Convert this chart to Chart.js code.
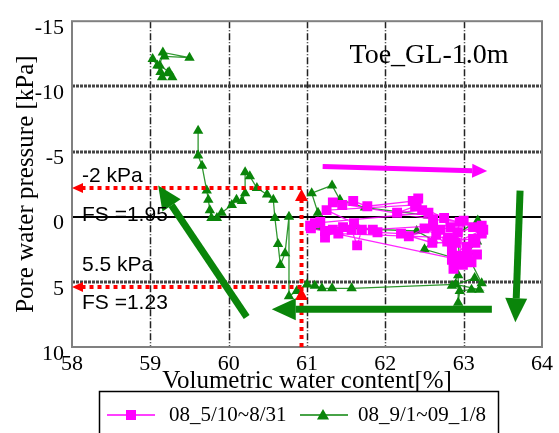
<!DOCTYPE html>
<html>
<head>
<meta charset="utf-8">
<script src="https://cdn.jsdelivr.net/npm/chart.js@4"></script>
<style>
  html, body { margin: 0; padding: 0; background: #fff; }
  #wrap { width: 559px; height: 433px; }
</style>
</head>
<body>
<div id="wrap"><canvas id="c" width="559" height="433"></canvas></div>
<script>
// 08_5/10~8/31 (magenta squares)
const pinkX = [61.04, 61.17, 61.23, 61.33, 61.23, 61.46, 61.57, 61.64, 61.70, 61.84,
  62.61, 62.70, 62.83, 62.92, 62.95, 62.61, 61.33, 61.45, 61.59, 61.77,
  62.35, 62.42, 62.38, 62.15, 62.47, 62.55, 61.10, 61.40, 62.80, 63.12,
  63.23, 63.23, 63.12, 62.79, 62.87, 63.04, 63.17, 62.99, 62.92, 62.87,
  62.95, 63.00, 62.30, 62.50, 62.65, 62.85, 63.05, 62.90, 63.25, 62.75,
  62.40, 61.25, 61.60, 61.90, 62.20, 62.60, 63.15, 62.85, 63.10, 61.05];
const pinkY = [0.7, 0.4, 1.1, 1.0, 1.6, 0.8, 1.0, 2.2, 1.0, 1.0,
  0.7, 1.0, 0.8, 1.2, 0.4, 0.2, -1.1, -0.9, -1.2, -0.8,
  -1.2, -1.4, -0.8, -0.3, -0.5, -0.3, 0.5, 1.3, 1.6, 0.8,
  0.7, 1.3, 1.7, 1.9, 1.8, 2.3, 2.9, 3.7, 3.6, 4.0,
  3.0, 0.3, 1.5, 0.9, 1.4, 2.6, 3.0, 2.0, 1.0, 0.1,
  -0.9, -0.5, 0.5, 1.2, 1.3, 2.0, 2.0, 3.3, 3.5, 0.9];

// 08_9/1~09_1/8 (green triangles), null = gap in the record
const greenX = [59.03, 59.09, 59.13, 59.15, 59.22, 59.28, 59.24, 59.12, 59.16, 59.50, 59.18,
  null,
  59.61, 59.61, 59.66, 59.72, 59.74, 59.76, 59.78, 59.85, 59.91, 60.04,
  60.10, 60.17, 60.21, 60.21, 60.27, 60.36, 60.49, 60.57, 60.59, 60.63,
  60.66, 60.72, 60.77, 60.77, 60.87, 61.00, 61.10, 61.19, 61.32, 61.57,
  62.90, 63.20, 63.10, 62.95, 62.93, 62.93, 62.85, 63.14, 63.23, 63.08,
  63.06, 63.17, 63.23, 63.18, 62.92, 62.95, 62.50, 62.61, 62.40, 61.13,
  61.14, 61.06, 61.32, 61.42, 61.74, 62.55];
const greenY = [-12.1, -11.6, -11.1, -10.7, -11.0, -10.7, -11.1, -11.6, -12.6, -12.2, -12.3,
  null,
  -6.6, -4.7, -3.9, -2.0, -1.3, -0.5, 0.1, 0.1, -0.3, -0.9,
  -1.3, -1.2, -1.8, -3.4, -3.1, -2.2, -1.7, -1.3, 0.1, 2.1,
  3.7, 2.8, 0.0, 6.1, 5.7, 5.2, 5.3, 5.5, 5.5, 5.5,
  5.2, 5.6, 5.6, 5.7, 6.6, 4.5, 5.3, 4.7, 5.1, 3.3,
  2.7, 1.9, 1.3, 0.3, 1.3, 3.3, 2.5, 1.8, 1.1, 0.8,
  -0.3, -1.8, -2.4, -1.3, -0.7, -0.1];

const xTicks = [58, 59, 60, 61, 62, 63, 64];
const yTicks = [-15, -10, -5, 0, 5, 10];

// reference levels (kPa) and water content where they are read
const levelTop = -2.2;
const levelBottom = 5.4;
const levelX = 60.93;

// trend arrows, [x1, y1, x2, y2] in data units (tail -> tip)
const greenArrows = [
  [60.23, 7.7, 59.10, -2.4],
  [63.36, 7.1, 60.55, 7.1],
  [63.72, -2.0, 63.66, 8.1]
];
const pinkArrow = [61.2, -3.85, 63.3, -3.5];

const seriesNames = ['08_5/10~8/31', '08_9/1~09_1/8'];
const PINK = '#ff00ff';
const GREEN = '#0a850a';

function pts(xs, ys) {
  return xs.map((x, i) => (x === null ? { x: null, y: null } : { x: x, y: ys[i] }));
}

function arrow(ctx, x1, y1, x2, y2, w, hl, hw, color) {
  const a = Math.atan2(y2 - y1, x2 - x1);
  const bx = x2 - Math.cos(a) * hl, by = y2 - Math.sin(a) * hl;
  ctx.save();
  ctx.strokeStyle = color; ctx.fillStyle = color;
  ctx.lineWidth = w; ctx.lineCap = 'butt'; ctx.setLineDash([]);
  ctx.beginPath(); ctx.moveTo(x1, y1); ctx.lineTo(bx, by); ctx.stroke();
  ctx.beginPath();
  ctx.moveTo(x2, y2);
  ctx.lineTo(bx + Math.sin(a) * hw, by - Math.cos(a) * hw);
  ctx.lineTo(bx - Math.sin(a) * hw, by + Math.cos(a) * hw);
  ctx.closePath(); ctx.fill();
  ctx.restore();
}

function tri(ctx, x, y, r, color) {
  ctx.fillStyle = color;
  ctx.beginPath();
  ctx.moveTo(x, y - r);
  ctx.lineTo(x + r * 0.866, y + r * 0.5);
  ctx.lineTo(x - r * 0.866, y + r * 0.5);
  ctx.closePath(); ctx.fill();
}

const decor = {
  id: 'decor',
  beforeDatasetsDraw(chart) {
    const { ctx, chartArea: a, scales: { x, y } } = chart;
    ctx.save();
    // vertical grid, dash-dot
    ctx.strokeStyle = '#222'; ctx.lineWidth = 1.5; ctx.setLineDash([7, 2, 1, 2]);
    xTicks.slice(1, -1).forEach(v => {
      const px = Math.round(x.getPixelForValue(v)) + 0.5;
      ctx.beginPath(); ctx.moveTo(px, a.top); ctx.lineTo(px, a.bottom); ctx.stroke();
    });
    // horizontal grid
    yTicks.slice(1, -1).forEach(v => {
      const py = Math.round(y.getPixelForValue(v));
      ctx.beginPath();
      if (v === 0) { ctx.setLineDash([]); ctx.strokeStyle = '#000'; ctx.lineWidth = 2; }
      else { ctx.setLineDash([3, 1]); ctx.strokeStyle = '#444'; ctx.lineWidth = 3; }
      ctx.moveTo(a.left, py); ctx.lineTo(a.right, py); ctx.stroke();
    });
    // frame
    ctx.setLineDash([]); ctx.strokeStyle = '#808080'; ctx.lineWidth = 2;
    ctx.strokeRect(a.left, a.top, a.right - a.left, a.bottom - a.top);
    ctx.restore();
  },
  afterDatasetsDraw(chart) {
    const { ctx, chartArea: a, scales: { x, y } } = chart;
    ctx.save();
    // red dotted reference lines
    const lx = x.getPixelForValue(levelX);
    const yt = y.getPixelForValue(levelTop), yb = y.getPixelForValue(levelBottom);
    ctx.strokeStyle = '#ff0000'; ctx.lineWidth = 4; ctx.setLineDash([4, 4]);
    ctx.beginPath();
    ctx.moveTo(lx, yt); ctx.lineTo(a.left + 10, yt);
    ctx.moveTo(lx, yb); ctx.lineTo(a.left + 10, yb);
    ctx.moveTo(lx, a.bottom); ctx.lineTo(lx, yt + 8);
    ctx.stroke();
    ctx.setLineDash([]);
    ctx.fillStyle = '#ff0000';
    [yt, yb].forEach(py => {
      ctx.beginPath();
      ctx.moveTo(a.left, py); ctx.lineTo(a.left + 11, py - 5); ctx.lineTo(a.left + 11, py + 5);
      ctx.closePath(); ctx.fill();
      ctx.beginPath();
      ctx.moveTo(lx, py + 1); ctx.lineTo(lx + 6.5, py + 13); ctx.lineTo(lx - 6.5, py + 13);
      ctx.closePath(); ctx.fill();
    });

    // trend arrows
    greenArrows.forEach(g => {
      arrow(ctx, x.getPixelForValue(g[0]), y.getPixelForValue(g[1]),
        x.getPixelForValue(g[2]), y.getPixelForValue(g[3]), 7, 24, 11, GREEN);
    });
    arrow(ctx, x.getPixelForValue(pinkArrow[0]), y.getPixelForValue(pinkArrow[1]),
      x.getPixelForValue(pinkArrow[2]), y.getPixelForValue(pinkArrow[3]), 5, 15, 7, PINK);

    // level notes
    ctx.fillStyle = '#000';
    ctx.font = '21px "Liberation Sans", Arial, sans-serif';
    ctx.textAlign = 'left'; ctx.textBaseline = 'middle';
    ctx.fillText('-2 kPa', a.left + 10, yt - 12);
    ctx.fillText('FS =1.95', a.left + 10, yt + 27);
    ctx.fillText('5.5 kPa', a.left + 10, yb - 22);
    ctx.fillText('FS =1.23', a.left + 10, yb + 16);

    // panel title
    ctx.font = '28px "Liberation Serif", "Times New Roman", serif';
    ctx.textAlign = 'center'; ctx.textBaseline = 'alphabetic';
    ctx.fillText('Toe_GL-1.0m', 429, 63);
    ctx.restore();
  },
  afterDraw(chart) {
    const { ctx } = chart;
    ctx.save();
    // legend box
    ctx.strokeStyle = '#000'; ctx.lineWidth = 1.5;
    ctx.strokeRect(99.5, 391.5, 399, 50);
    const ly = 415;
    // entry 1
    ctx.strokeStyle = PINK; ctx.lineWidth = 1.5;
    ctx.beginPath(); ctx.moveTo(107, ly); ctx.lineTo(155, ly); ctx.stroke();
    ctx.fillStyle = PINK; ctx.fillRect(126, ly - 5, 10, 10);
    // entry 2
    ctx.strokeStyle = GREEN;
    ctx.beginPath(); ctx.moveTo(300, ly); ctx.lineTo(348, ly); ctx.stroke();
    tri(ctx, 323, ly + 1, 7, GREEN);
    ctx.fillStyle = '#000';
    ctx.font = '21px "Liberation Serif", "Times New Roman", serif';
    ctx.textAlign = 'left'; ctx.textBaseline = 'middle';
    ctx.fillText(seriesNames[0], 169, ly);
    ctx.fillText(seriesNames[1], 358, ly);
    ctx.restore();
  }
};

const serif = '"Liberation Serif", "Times New Roman", serif';

new Chart(document.getElementById('c'), {
  type: 'scatter',
  data: {
    datasets: [
      {
        label: seriesNames[0],
        data: pts(pinkX, pinkY),
        showLine: true,
        borderColor: 'rgba(255,0,255,0.85)',
        backgroundColor: PINK,
        borderWidth: 1.3,
        pointStyle: 'rect',
        pointRadius: 7,
        pointBorderWidth: 0,
        spanGaps: false
      },
      {
        label: seriesNames[1],
        data: pts(greenX, greenY),
        showLine: true,
        borderColor: 'rgba(10,133,10,0.85)',
        backgroundColor: GREEN,
        borderWidth: 1.3,
        pointStyle: 'triangle',
        pointRadius: 6,
        pointBorderWidth: 0,
        spanGaps: false
      }
    ]
  },
  options: {
    responsive: false,
    animation: false,
    layout: { padding: { top: 15, right: 17, left: 0, bottom: 0 } },
    plugins: { legend: { display: false }, tooltip: { enabled: false } },
    scales: {
      x: {
        type: 'linear', min: 58, max: 64,
        afterBuildTicks: s => { s.ticks = xTicks.map(v => ({ value: v })); },
        afterFit: s => { s.height = 86; },
        grid: { display: false, drawTicks: false },
        border: { display: false },
        ticks: { color: '#000', font: { family: serif, size: 22 }, padding: 4, maxRotation: 0, autoSkip: false },
        title: {
          display: true, text: 'Volumetric water content[%]', color: '#000',
          font: { family: serif, size: 25 }, padding: { top: 0, bottom: 37 }
        }
      },
      y: {
        type: 'linear', min: -15, max: 10, reverse: true,
        afterBuildTicks: s => { s.ticks = yTicks.map(v => ({ value: v })); },
        afterFit: s => { s.width = 72; },
        grid: { display: false, drawTicks: false },
        border: { display: false },
        ticks: { color: '#000', font: { family: serif, size: 22 }, padding: 8, labelOffset: 7, autoSkip: false },
        title: {
          display: true, text: 'Pore water pressure [kPa]', color: '#000',
          font: { family: serif, size: 25 }, padding: { top: 11 }
        }
      }
    }
  },
  plugins: [decor]
});
</script>
</body>
</html>
